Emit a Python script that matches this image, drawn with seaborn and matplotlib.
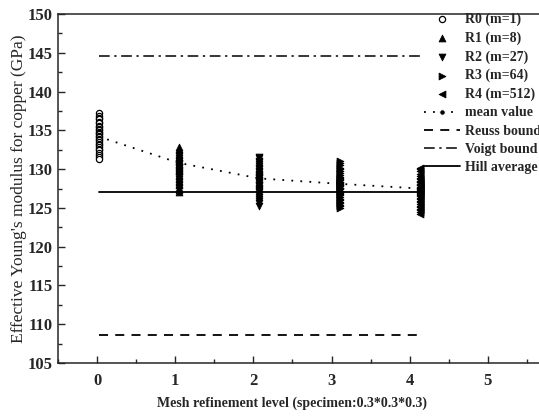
import matplotlib
matplotlib.use("Agg")
import matplotlib.pyplot as plt
import seaborn as sns
import pandas as pd
from matplotlib.ticker import MultipleLocator

# 网格细化层级
levels = [0, 1, 2, 3, 4]
series_names = ["R0 (m=1)", "R1 (m=8)", "R2 (m=27)", "R3 (m=64)", "R4 (m=512)"]

# 各层级的杨氏模量样本 (GPa)
r0 = [137.2, 136.9, 136.6, 136.4, 136.1, 135.9, 135.6, 135.4, 135.2, 135.0,
      134.8, 134.6, 134.5, 134.3, 134.1, 133.9, 133.7, 133.5, 133.3, 133.1,
      132.9, 132.6, 132.4, 132.1, 131.8, 131.5, 131.3]
r1 = [132.8, 132.6, 132.4, 132.2, 132.0, 131.8, 131.6, 131.4, 131.2, 131.0,
      130.9, 130.7, 130.5, 130.4, 130.2, 130.0, 129.9, 129.7, 129.5, 129.3,
      129.1, 128.9, 128.7, 128.5, 128.3, 128.1, 127.9, 127.6, 127.3, 127.0,
      131.5, 130.6, 129.8, 130.3, 131.1]
r2 = [131.6, 131.4, 131.1, 130.9, 130.6, 130.4, 130.2, 130.0, 129.8, 129.6,
      129.4, 129.2, 129.0, 128.8, 128.6, 128.4, 128.2, 128.0, 127.8, 127.6,
      127.4, 127.2, 127.0, 126.8, 126.6, 126.4, 126.2, 125.9, 125.6, 125.3,
      129.1, 128.5, 127.9, 128.9, 127.3]
r3 = [131.0, 130.8, 130.5, 130.2, 130.0, 129.7, 129.5, 129.3, 129.0, 128.8,
      128.6, 128.4, 128.2, 128.0, 127.8, 127.6, 127.4, 127.2, 127.0, 126.8,
      126.6, 126.4, 126.2, 126.0, 125.8, 125.6, 125.4, 125.2, 125.0, 128.3,
      127.9, 128.1, 127.5, 128.7, 126.9]
r4 = [130.2, 130.0, 129.7, 129.4, 129.1, 128.9, 128.7, 128.5, 128.3, 128.1,
      127.9, 127.7, 127.5, 127.3, 127.1, 126.9, 126.7, 126.5, 126.3, 126.1,
      125.9, 125.7, 125.5, 125.3, 125.1, 124.9, 124.7, 124.5, 124.2, 127.6,
      127.2, 128.0, 126.8, 127.4, 128.4]

mean_values = [134.2, 130.8, 128.8, 128.1, 127.5]
reuss_bound = 108.6
voigt_bound = 144.6
hill_average = 127.0

sns.set_style("ticks")
plt.rcParams["font.family"] = ["Liberation Serif", "DejaVu Serif"]
plt.rcParams["xtick.direction"] = "in"
plt.rcParams["ytick.direction"] = "in"

fig = plt.figure(figsize=(5.39, 4.17), dpi=100)
ax = fig.add_axes([58 / 539, 54 / 417, 508 / 539, 349 / 417])

# 数据层 (类似 Origin 的叠加图层, 横向比例略有不同)
ax2 = ax.twiny()

samples = [r0, r1, r2, r3, r4]
markers = ["o", "^", "v", ">", "<"]
for lvl, name, vals, mk in zip(levels, series_names, samples, markers):
    df = pd.DataFrame({"level": [lvl] * len(vals), "E": vals})
    if mk == "o":
        sns.scatterplot(data=df, x="level", y="E", marker=mk, s=20,
                        facecolor="white", edgecolor="black", linewidth=0.9,
                        label=name, ax=ax2, zorder=4)
    else:
        sns.scatterplot(data=df, x="level", y="E", marker=mk, s=24,
                        color="black", edgecolor="black", linewidth=0.6,
                        label=name, ax=ax2, zorder=4)

# 平均值曲线
sns.lineplot(x=levels, y=mean_values, color="black", linestyle=(0, (1, 4)),
             linewidth=1.3, marker="o", markersize=4, label="mean value",
             ax=ax2, zorder=3)

# 上下界与Hill平均
ax2.plot([levels[0], levels[-1]], [reuss_bound] * 2, color="black",
         linestyle=(0, (5, 4)), linewidth=1.3, label="Reuss bound")
ax2.plot([levels[0], levels[-1]], [voigt_bound] * 2, color="black",
         linestyle=(0, (7, 3, 1.5, 3)), linewidth=1.1, label="Voigt bound")
ax2.plot([levels[0], levels[-1]], [hill_average] * 2, color="black",
         linestyle="-", linewidth=1.3, label="Hill average")

ax2.set_xlim(-0.504, 5.815)
ax2.set_xticks([])
ax2.set_xlabel("")
for sp in ax2.spines.values():
    sp.set_visible(False)

ax.set_xlim(-0.5, 6.0)
ax.set_ylim(105, 150)
ax.set_xticks([0, 1, 2, 3, 4, 5])
ax.xaxis.set_minor_locator(MultipleLocator(0.5))
ax.yaxis.set_major_locator(MultipleLocator(5))
ax.yaxis.set_minor_locator(MultipleLocator(2.5))
ax.tick_params(axis="x", which="major", length=5, width=1, labelsize=12, pad=7)
ax.tick_params(axis="y", which="major", length=5, width=1, labelsize=12, pad=4)
ax.tick_params(which="minor", length=3, width=1)
for lab in ax.get_xticklabels() + ax.get_yticklabels():
    lab.set_fontweight("bold")
for sp in ax.spines.values():
    sp.set_linewidth(1.1)

ax.set_xlabel("Mesh refinement level (specimen:0.3*0.3*0.3)", fontsize=10,
              fontweight="bold")
ax.xaxis.set_label_coords(0.461, -0.097)
ax.set_ylabel("Effective Young's modulus for copper (GPa)", fontsize=12.5)
ax.yaxis.set_label_coords(-0.061, 0.5)

handles, labels = ax2.get_legend_handles_labels()
ax2.legend(handles, labels, loc="upper left",
           bbox_to_anchor=(418 / 539, 1 - 7 / 417),
           bbox_transform=fig.transFigure, frameon=False,
           prop={"weight": "bold", "size": 10}, handlelength=2.6,
           handletextpad=0.4, labelspacing=0.38, borderaxespad=0)

fig.savefig("out.png", dpi=100)
